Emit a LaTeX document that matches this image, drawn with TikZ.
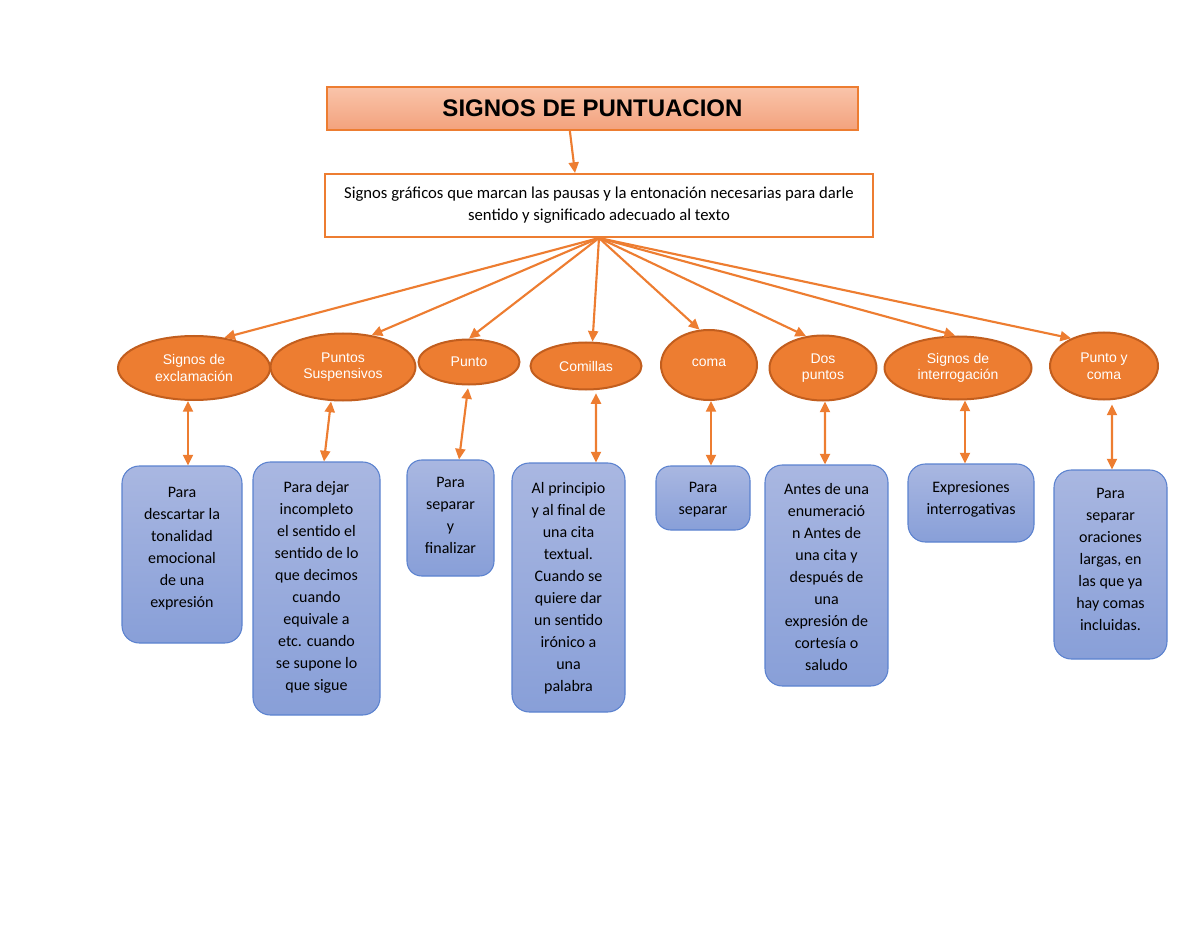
\documentclass[tikz,border=0pt]{standalone}
\usepackage{fontspec}
\setmainfont{Carlito}
\newfontfamily\arial{Liberation Sans}
\usetikzlibrary{shapes.geometric,arrows.meta,fit}
\definecolor{org}{HTML}{ED7D31}
\definecolor{orgdark}{HTML}{C25E1E}
\definecolor{bluetop}{HTML}{A9B7E1}
\definecolor{bluebot}{HTML}{889FD8}
\definecolor{blueline}{HTML}{5B82CF}
\definecolor{saltop}{HTML}{F9C4AA}
\definecolor{salbot}{HTML}{F3A27D}
\begin{document}
\begin{tikzpicture}[x=0.75pt,y=-0.75pt,
 titlebox/.style={draw=org, line width=1pt, top color=saltop, bottom color=salbot, inner sep=0},
 defbox/.style={draw=org, line width=1.5pt, fill=white, inner sep=0},
 ell/.style={ellipse, draw=orgdark, line width=1.5pt, fill=org, inner sep=0, text=white, font=\arial\fontsize{10.5}{12.5}\selectfont, align=center},
 bluebox/.style={draw=blueline, line width=0.8pt, rounded corners=13pt, top color=bluetop, bottom color=bluebot, inner sep=0},
 btext/.style={anchor=north, inner sep=0, align=center, font=\fontsize{12}{16.5}\selectfont},
 arr/.style={draw=org, line width=1.6pt, -{Triangle[length=8pt,width=7.5pt]}},
 darr/.style={draw=org, line width=1.6pt, {Triangle[length=8pt,width=7.5pt]}-{Triangle[length=8pt,width=7.5pt]}},
]
\useasboundingbox (0,0) rectangle (1200,927);

% title
\node[titlebox, fit={(327,87)(858,130)}] (title) {};
\node[inner sep=0, font=\arial\bfseries\fontsize{18}{21}\selectfont] (titletext) at (title.center) {SIGNOS DE PUNTUACION};

% definition
\node[defbox, fit={(325,174)(873,237)}] (def) {};
\node[inner sep=0, align=center, font=\fontsize{12.5}{16.5}\selectfont] (deftext) at (def.center)
 {Signos gráficos que marcan las pausas y la entonación necesarias para darle\\sentido y significado adecuado al texto};

\draw[arr] ([xshift=-17pt]title.south) -- ([xshift=-18pt]def.north);

% ellipses
\node[ell, minimum width=114pt, minimum height=48pt] (e1) at (194,368) {Signos de\\exclamación};
\node[ell, minimum width=108.75pt, minimum height=50.25pt] (e2) at (343,367) {Puntos\\Suspensivos};
\node[ell, minimum width=75.75pt, minimum height=33.75pt] (e3) at (469,362) {Punto};
\node[ell, minimum width=83.25pt, minimum height=35.25pt] (e4) at (586,366) {Comillas};
\node[ell, minimum width=72pt, minimum height=52.5pt] (e5) at (709,365) {\raisebox{3.5pt}{coma}};
\node[ell, minimum width=80.25pt, minimum height=48.75pt] (e6) at (823,368) {Dos\\puntos};
\node[ell, minimum width=110.25pt, minimum height=47.25pt] (e7) at (958,368) {Signos de\\interrogación};
\node[ell, minimum width=81pt, minimum height=50.25pt] (e8) at (1104,366) {Punto y\\coma};

% hub arrows
\draw[arr] (def.south) -- (e1.45);
\draw[arr] (def.south) -- (e2.48);
\draw[arr] (def.south) -- (e3.90);
\draw[arr] (def.south) -- (e4.75);
\draw[arr] (def.south) -- (e5.105);
\draw[arr] (def.south) -- (e6.118);
\draw[arr] (def.south) -- (e7.95);
\draw[arr] (def.south) -- (e8.140);

% blue boxes
\node[bluebox, fit={(122,466)(242,643)}] (b1) {};
\node[bluebox, fit={(253,462)(380,715)}] (b2) {};
\node[bluebox, fit={(407,460)(494,576)}, rounded corners=11pt] (b3) {};
\node[bluebox, fit={(512,463)(625,712)}] (b4) {};
\node[bluebox, fit={(656,466)(750,530)}, rounded corners=11pt] (b5) {};
\node[bluebox, fit={(765,465)(888,686)}] (b6) {};
\node[bluebox, fit={(908,464)(1034,542)}] (b7) {};
\node[bluebox, fit={(1054,470)(1167,659)}] (b8) {};

\node[btext] (t1) at ([yshift=-16pt]b1.north) {Para\\descartar la\\tonalidad\\emocional\\de una\\expresión};
\node[btext] (t2) at ([yshift=-15pt]b2.north) {Para dejar\\incompleto\\el sentido el\\sentido de lo\\que decimos\\cuando\\equivale a\\etc. cuando\\se supone lo\\que sigue};
\node[btext] (t3) at ([yshift=-13pt]b3.north) {Para\\separar\\y\\finalizar};
\node[btext] (t4) at ([yshift=-15pt]b4.north) {Al principio\\y al final de\\una cita\\textual.\\Cuando se\\quiere dar\\un sentido\\irónico a\\una\\palabra};
\node[btext] (t5) at ([yshift=-12.5pt]b5.north) {Para\\separar};
\node[btext] (t6) at ([yshift=-14pt]b6.north) {Antes de una\\enumeració\\n Antes de\\una cita y\\después de\\una\\expresión de\\cortesía o\\saludo};
\node[btext] (t7) at ([yshift=-13.5pt]b7.north) {Expresiones\\interrogativas};
\node[btext] (t8) at ([yshift=-13.5pt]b8.north) {Para\\separar\\oraciones\\largas, en\\las que ya\\hay comas\\incluidas.};

% double arrows
\draw[darr] ([xshift=-4.5pt]e1.south) -- ([xshift=4.5pt]b1.north);
\draw[darr] ([xshift=-9pt]e2.south) -- ([xshift=5.6pt]b2.north);
\draw[darr] ([xshift=-0.75pt,yshift=-2pt]e3.south) -- ([xshift=6.4pt]b3.north);
\draw[darr] ([xshift=7.5pt,yshift=-2pt]e4.south) -- ([xshift=20.6pt]b4.north);
\draw[darr] ([xshift=1.5pt]e5.south) -- ([xshift=6pt]b5.north);
\draw[darr] ([xshift=1.5pt]e6.south) -- ([xshift=-1.1pt]b6.north);
\draw[darr] ([xshift=5.25pt]e7.south) -- ([xshift=-4.5pt]b7.north);
\draw[darr] ([xshift=6pt,yshift=-3pt]e8.south) -- ([xshift=1.1pt]b8.north);
\end{tikzpicture}
\end{document}
